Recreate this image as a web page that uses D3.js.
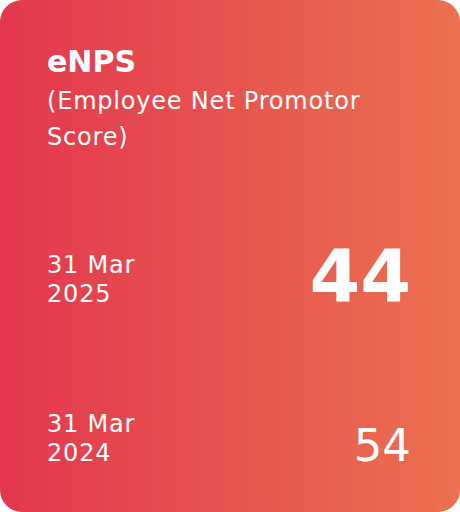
<!DOCTYPE html>
<meta charset="utf-8">
<style>
body { margin: 0; background: #fff; }
svg { font-family: "DejaVu Sans", sans-serif; }
.title { fill: #fff; font-weight: 700; font-size: 30px; }
.subtitle { fill: #fff; font-size: 24px; letter-spacing: 0.8px; }
.date { fill: #fff; font-size: 24px; letter-spacing: 0.8px; }
.value { fill: #fff; text-anchor: end; }
</style>
<body>
<script src="https://cdn.jsdelivr.net/npm/d3@7"></script>
<script>

var width = 460, height = 512, radius = 22;

var titleLines = ["eNPS"];
var subtitleLines = ["(Employee Net Promotor", "Score)"];
var periods = [["31 Mar", "2025"], ["31 Mar", "2024"]];
var scores = [44, 54];
var current = [true, false];

var svg = d3.select("body").append("svg")
    .attr("width", width)
    .attr("height", height);

var grad = svg.append("defs").append("linearGradient")
    .attr("id", "bg")
    .attr("x1", "0%").attr("x2", "100%")
    .attr("y1", "0%").attr("y2", "0%");
grad.append("stop").attr("offset", "0%").attr("stop-color", "#e3374e");
grad.append("stop").attr("offset", "100%").attr("stop-color", "#eb7150");

svg.append("rect")
    .attr("width", width)
    .attr("height", height)
    .attr("rx", radius)
    .attr("fill", "url(#bg)");

svg.selectAll(".title")
    .data(titleLines).enter()
    .append("text")
    .attr("class", "title")
    .attr("x", 47)
    .attr("y", 72)
    .text(function(d){ return d; });

svg.selectAll(".subtitle")
    .data(subtitleLines).enter()
    .append("text")
    .attr("class", "subtitle")
    .attr("x", 47)
    .attr("y", function(d, i){ return 109 + i * 36; })
    .text(function(d){ return d; });

// rows placed on a point scale
var rowY = d3.scalePoint()
    .domain(d3.range(periods.length))
    .range([302, 461]);

var rows = svg.selectAll(".row")
    .data(periods).enter()
    .append("g")
    .attr("class", "row")
    .attr("transform", function(d, i){ return "translate(0," + rowY(i) + ")"; });

rows.selectAll(".date")
    .data(function(d){ return d; }).enter()
    .append("text")
    .attr("class", "date")
    .attr("x", 47)
    .attr("y", function(d, i, nodes){ return (i - nodes.length + 1) * 29; })
    .text(function(d){ return d; });

rows.append("text")
    .attr("class", "value")
    .attr("x", 411)
    .attr("y", 0)
    .style("font-size", function(d, i){ return current[i] ? "73px" : "45px"; })
    .style("font-weight", function(d, i){ return current[i] ? 700 : 400; })
    .text(function(d, i){ return scores[i]; });

</script>
